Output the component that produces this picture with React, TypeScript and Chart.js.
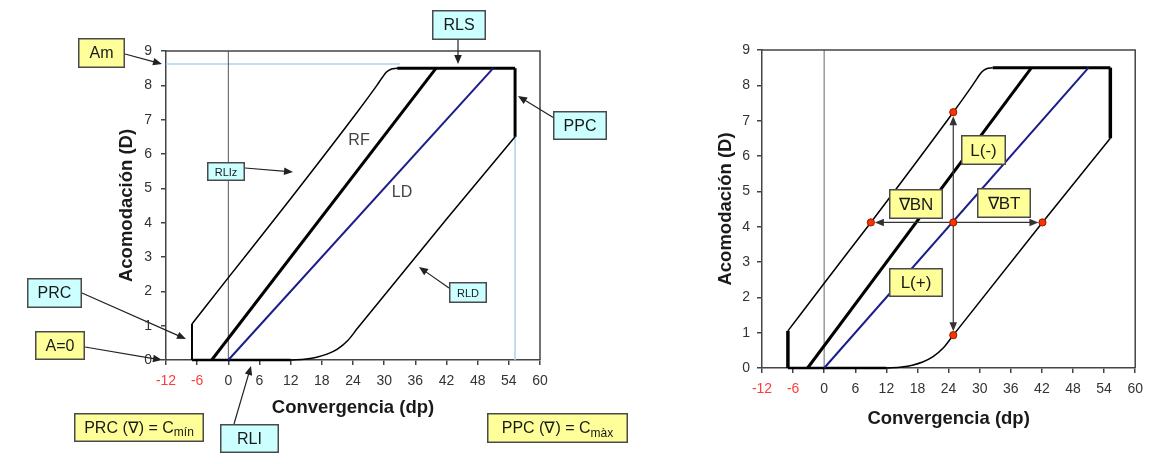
import React, { useEffect, useRef } from 'react';
import { Chart, registerables } from 'chart.js';

Chart.register(...registerables);

const FONT = "'Liberation Sans', Arial, Helvetica, sans-serif";

// ---- axis ticks ----
const xTickValues = [-12, -6, 0, 6, 12, 18, 24, 30, 36, 42, 48, 54, 60];
const yTickValues = [0, 1, 2, 3, 4, 5, 6, 7, 8, 9];
const negativeTicks = [-12, -6];

// ---- curves: [convergencia (dp), acomodación (D)] ----
const rlizCurve: [number, number][] = [
  [-7, 1.05], [0, 2.4], [9, 4.12], [24.9, 7.24], [28.6, 8.0], [29.6, 8.22], [30.4, 8.38], [31.3, 8.47], [32.5, 8.5],
];
const rldCurve: [number, number][] = [
  [12, 0], [15, 0.03], [17, 0.08], [19, 0.17], [21, 0.32], [23, 0.57], [24.9, 0.93], [42.1, 4.12], [55.2, 6.5],
];
const rfLine: [number, number][] = [[-3.2, 0], [40, 8.5]];
const ldLine: [number, number][] = [[0, 0], [51, 8.5]];
const rlsLine: [number, number][] = [[32.5, 8.5], [55.2, 8.5]];
const ppcLine: [number, number][] = [[55.2, 6.5], [55.2, 8.5]];
const prcLine: [number, number][] = [[-7, 0], [-7, 1.05]];
const baseLine: [number, number][] = [[-7, 0], [12, 0]];
const rliLine: [number, number][] = [[0, 0], [0, 9]];
const amLine: [number, number][] = [[-12, 8.62], [33, 8.62]];
const cmaxLine: [number, number][] = [[55.2, 0], [55.2, 6.5]];

// ---- right chart: phoria / vergence points ----
const centerPoint: [number, number] = [24.9, 4.12];
const bnPoint: [number, number] = [9, 4.12];
const btPoint: [number, number] = [42.1, 4.12];
const lNegPoint: [number, number] = [24.9, 7.24];
const lPosPoint: [number, number] = [24.9, 0.93];
const redPoints: [number, number][] = [bnPoint, centerPoint, btPoint, lNegPoint, lPosPoint];

const YELLOW = '#FFFF99';
const CYAN = '#CCFFFF';

type Box = { x: number; y: number; w: number; h: number; fill: string; text: string; sub?: string; size: number };
type Arrow = { x1: number; y1: number; x2: number; y2: number };

const leftBoxes: Box[] = [
  { x: 78, y: 38, w: 47, h: 30, fill: YELLOW, text: 'Am', size: 16 },
  { x: 432, y: 10, w: 54, h: 30, fill: CYAN, text: 'RLS', size: 16 },
  { x: 553, y: 111, w: 54, h: 29, fill: CYAN, text: 'PPC', size: 16 },
  { x: 207, y: 162, w: 38, h: 19, fill: CYAN, text: 'RLIz', size: 11 },
  { x: 449, y: 282, w: 38, h: 21, fill: CYAN, text: 'RLD', size: 11 },
  { x: 27, y: 278, w: 55, h: 30, fill: CYAN, text: 'PRC', size: 16 },
  { x: 35, y: 331, w: 50, h: 29, fill: YELLOW, text: 'A=0', size: 16 },
  { x: 74, y: 413, w: 130, h: 29, fill: YELLOW, text: 'PRC (\u2207) = C', sub: 'mín', size: 16 },
  { x: 220, y: 424, w: 59, h: 29, fill: CYAN, text: 'RLI', size: 16 },
  { x: 487, y: 413, w: 141, h: 30, fill: YELLOW, text: 'PPC (\u2207) = C', sub: 'màx', size: 16 },
];
const leftArrows: Arrow[] = [
  { x1: 125, y1: 54, x2: 162, y2: 64 },
  { x1: 458, y1: 40, x2: 458, y2: 64 },
  { x1: 554, y1: 118, x2: 518, y2: 96 },
  { x1: 245, y1: 168, x2: 293, y2: 172 },
  { x1: 449, y1: 288, x2: 419, y2: 267 },
  { x1: 82, y1: 293, x2: 186, y2: 339 },
  { x1: 85, y1: 347, x2: 162, y2: 360 },
  { x1: 234, y1: 424, x2: 251, y2: 366 },
];
const RIGHT_OFFSET = 640;
const rightBoxes: Box[] = [
  { x: 961 - RIGHT_OFFSET, y: 135, w: 45, h: 30, fill: YELLOW, text: 'L(-)', size: 17 },
  { x: 889 - RIGHT_OFFSET, y: 189, w: 54, h: 30, fill: YELLOW, text: '\u2207BN', size: 17 },
  { x: 977 - RIGHT_OFFSET, y: 188, w: 54, h: 30, fill: YELLOW, text: '\u2207BT', size: 17 },
  { x: 889 - RIGHT_OFFSET, y: 268, w: 54, h: 29, fill: YELLOW, text: 'L(+)', size: 17 },
];

function drawArrow(ctx: CanvasRenderingContext2D, a: Arrow, color = '#222') {
  const dx = a.x2 - a.x1, dy = a.y2 - a.y1;
  const len = Math.hypot(dx, dy);
  const ux = dx / len, uy = dy / len;
  const hl = 9, hw = 3.8;
  ctx.save();
  ctx.strokeStyle = color;
  ctx.fillStyle = color;
  ctx.lineWidth = 1.2;
  ctx.beginPath();
  ctx.moveTo(a.x1, a.y1);
  ctx.lineTo(a.x2 - ux * hl * 0.8, a.y2 - uy * hl * 0.8);
  ctx.stroke();
  ctx.beginPath();
  ctx.moveTo(a.x2, a.y2);
  ctx.lineTo(a.x2 - ux * hl - uy * hw, a.y2 - uy * hl + ux * hw);
  ctx.lineTo(a.x2 - ux * hl + uy * hw, a.y2 - uy * hl - ux * hw);
  ctx.closePath();
  ctx.fill();
  ctx.restore();
}

function drawBox(ctx: CanvasRenderingContext2D, b: Box) {
  ctx.save();
  ctx.fillStyle = b.fill;
  ctx.fillRect(b.x, b.y, b.w, b.h);
  ctx.strokeStyle = '#4a4a4a';
  ctx.lineWidth = 1.5;
  ctx.strokeRect(b.x + 0.75, b.y + 0.75, b.w - 1.5, b.h - 1.5);
  ctx.fillStyle = '#1a1a1a';
  ctx.textBaseline = 'middle';
  ctx.textAlign = 'left';
  ctx.font = `${b.size}px ${FONT}`;
  const mainW = ctx.measureText(b.text).width;
  const subSize = Math.round(b.size * 0.72);
  let subW = 0;
  if (b.sub) {
    ctx.font = `${subSize}px ${FONT}`;
    subW = ctx.measureText(b.sub).width;
  }
  const x0 = b.x + (b.w - mainW - subW) / 2;
  const cy = b.y + b.h / 2 + 1;
  ctx.font = `${b.size}px ${FONT}`;
  ctx.fillText(b.text, x0, cy);
  if (b.sub) {
    ctx.font = `${subSize}px ${FONT}`;
    ctx.fillText(b.sub, x0 + mainW, cy + b.size * 0.28);
  }
  ctx.restore();
}

const pts = (arr: [number, number][]) => arr.map(([x, y]) => ({ x, y }));

function lineDs(arr: [number, number][], color: string, width: number, extra: any = {}) {
  return {
    data: pts(arr),
    showLine: true,
    borderColor: color,
    borderWidth: width,
    pointRadius: 0,
    fill: false,
    clip: false,
    tension: 0,
    ...extra,
  };
}

const framePlugin = {
  id: 'frame',
  afterDraw(chart: any) {
    const { ctx, chartArea: a } = chart;
    ctx.save();
    ctx.strokeStyle = '#444';
    ctx.lineWidth = 1.5;
    ctx.beginPath();
    ctx.moveTo(a.left, a.top);
    ctx.lineTo(a.right, a.top);
    ctx.lineTo(a.right, a.bottom);
    ctx.stroke();
    ctx.restore();
  },
};

function baseOptions(pad: any, yWidth: number, xHeight: number, yTickPad: number) {
  return {
    animation: false,
    responsive: false,
    maintainAspectRatio: false,
    layout: { padding: pad },
    plugins: { legend: { display: false }, tooltip: { enabled: false } },
    scales: {
      x: {
        type: 'linear',
        min: -12,
        max: 60,
        afterBuildTicks: (s: any) => { s.ticks = xTickValues.map((v) => ({ value: v })); },
        afterFit: (s: any) => { s.height = xHeight; },
        ticks: {
          padding: 8,
          font: { size: 14, family: FONT },
          color: (c: any) => (negativeTicks.includes(c.tick.value) ? '#FF3B3B' : '#333'),
        },
        grid: { drawOnChartArea: false, drawTicks: true, tickLength: 5, color: '#444', lineWidth: 1.5 },
        border: { display: true, color: '#444', width: 1.5 },
        title: {
          display: true,
          text: 'Convergencia (dp)',
          color: '#1a1a1a',
          padding: 0,
          font: { size: 18.5, weight: 'bold', family: FONT },
        },
      },
      y: {
        type: 'linear',
        min: 0,
        max: 9,
        afterBuildTicks: (s: any) => { s.ticks = yTickValues.map((v) => ({ value: v })); },
        afterFit: (s: any) => { s.width = yWidth; },
        ticks: { padding: yTickPad, font: { size: 14, family: FONT }, color: '#333' },
        grid: { drawOnChartArea: false, drawTicks: true, tickLength: 5, color: '#444', lineWidth: 1.5 },
        border: { display: true, color: '#444', width: 1.5 },
        title: {
          display: true,
          text: 'Acomodación (D)',
          color: '#1a1a1a',
          padding: 0,
          font: { size: 18.5, weight: 'bold', family: FONT },
        },
      },
    },
  };
}

function LeftChart() {
  const ref = useRef<HTMLCanvasElement>(null);
  useEffect(() => {
    const textPlugin = {
      id: 'leftNotes',
      afterDraw(chart: any) {
        const ctx = chart.ctx as CanvasRenderingContext2D;
        ctx.save();
        ctx.fillStyle = '#444';
        ctx.font = `16px ${FONT}`;
        ctx.textAlign = 'center';
        ctx.textBaseline = 'middle';
        ctx.fillText('RF', 359, 141);
        ctx.fillText('LD', 402, 193);
        ctx.restore();
        leftArrows.forEach((a) => drawArrow(ctx, a));
        leftBoxes.forEach((b) => drawBox(ctx, b));
      },
    };
    const chart = new Chart(ref.current as HTMLCanvasElement, {
      type: 'scatter',
      data: {
        datasets: [
          lineDs(ldLine, '#1c1c8a', 2),
          lineDs(rfLine, '#000', 3),
          lineDs(rlizCurve, '#000', 1.5, { cubicInterpolationMode: 'monotone' }),
          lineDs(rldCurve, '#000', 1.5, { cubicInterpolationMode: 'monotone' }),
          lineDs(rlsLine, '#000', 3),
          lineDs(ppcLine, '#000', 3),
          lineDs(prcLine, '#000', 2),
          lineDs(baseLine, '#000', 2.5),
          lineDs(rliLine, '#555', 1),
          lineDs(amLine, '#A9D3EE', 1.5),
          lineDs(cmaxLine, '#A9D3EE', 1.5),
        ] as any,
      },
      options: baseOptions({ left: 116, right: 100, top: 51, bottom: 45 }, 50, 59, 9) as any,
      plugins: [framePlugin, textPlugin],
    });
    return () => chart.destroy();
  }, []);
  return <canvas ref={ref} width={640} height={464} style={{ position: 'absolute', left: 0, top: 0, width: 640, height: 464 }} />;
}

function RightChart() {
  const ref = useRef<HTMLCanvasElement>(null);
  useEffect(() => {
    const notesPlugin = {
      id: 'rightNotes',
      afterDraw(chart: any) {
        const ctx = chart.ctx as CanvasRenderingContext2D;
        const xs = chart.scales.x, ys = chart.scales.y;
        const px = (p: [number, number]) => [xs.getPixelForValue(p[0]), ys.getPixelForValue(p[1])];
        const [cx, cy] = px(centerPoint);
        [bnPoint, btPoint, lNegPoint, lPosPoint].forEach((p) => {
          const [ex, ey] = px(p);
          const d = Math.hypot(ex - cx, ey - cy);
          const ux = (ex - cx) / d, uy = (ey - cy) / d;
          drawArrow(ctx, { x1: cx, y1: cy, x2: ex - ux * 4, y2: ey - uy * 4 }, '#333');
        });
        redPoints.forEach((p) => {
          const [x, y] = px(p);
          ctx.save();
          ctx.beginPath();
          ctx.arc(x, y, 3.6, 0, Math.PI * 2);
          ctx.fillStyle = '#FF3300';
          ctx.fill();
          ctx.lineWidth = 1;
          ctx.strokeStyle = '#8a1a00';
          ctx.stroke();
          ctx.restore();
        });
        rightBoxes.forEach((b) => drawBox(ctx, b));
      },
    };
    const chart = new Chart(ref.current as HTMLCanvasElement, {
      type: 'scatter',
      data: {
        datasets: [
          lineDs(ldLine, '#1c1c8a', 2),
          lineDs(rfLine, '#000', 3),
          lineDs(rlizCurve, '#000', 1.5, { cubicInterpolationMode: 'monotone' }),
          lineDs(rldCurve, '#000', 1.5, { cubicInterpolationMode: 'monotone' }),
          lineDs(rlsLine, '#000', 3),
          lineDs(ppcLine, '#000', 3.5),
          lineDs(prcLine, '#000', 3.5),
          lineDs(baseLine, '#000', 2.5),
          lineDs(rliLine, '#999', 1.5),
        ] as any,
      },
      options: baseOptions({ left: 75, right: 9, top: 50, bottom: 34 }, 47, 62, 7) as any,
      plugins: [framePlugin, notesPlugin],
    });
    return () => chart.destroy();
  }, []);
  return <canvas ref={ref} width={511} height={464} style={{ position: 'absolute', left: RIGHT_OFFSET, top: 0, width: 511, height: 464 }} />;
}

export default function App() {
  return (
    <div style={{ position: 'fixed', left: 0, top: 0, width: 1151, height: 464, background: '#fff', overflow: 'hidden' }}>
      <LeftChart />
      <RightChart />
    </div>
  );
}
